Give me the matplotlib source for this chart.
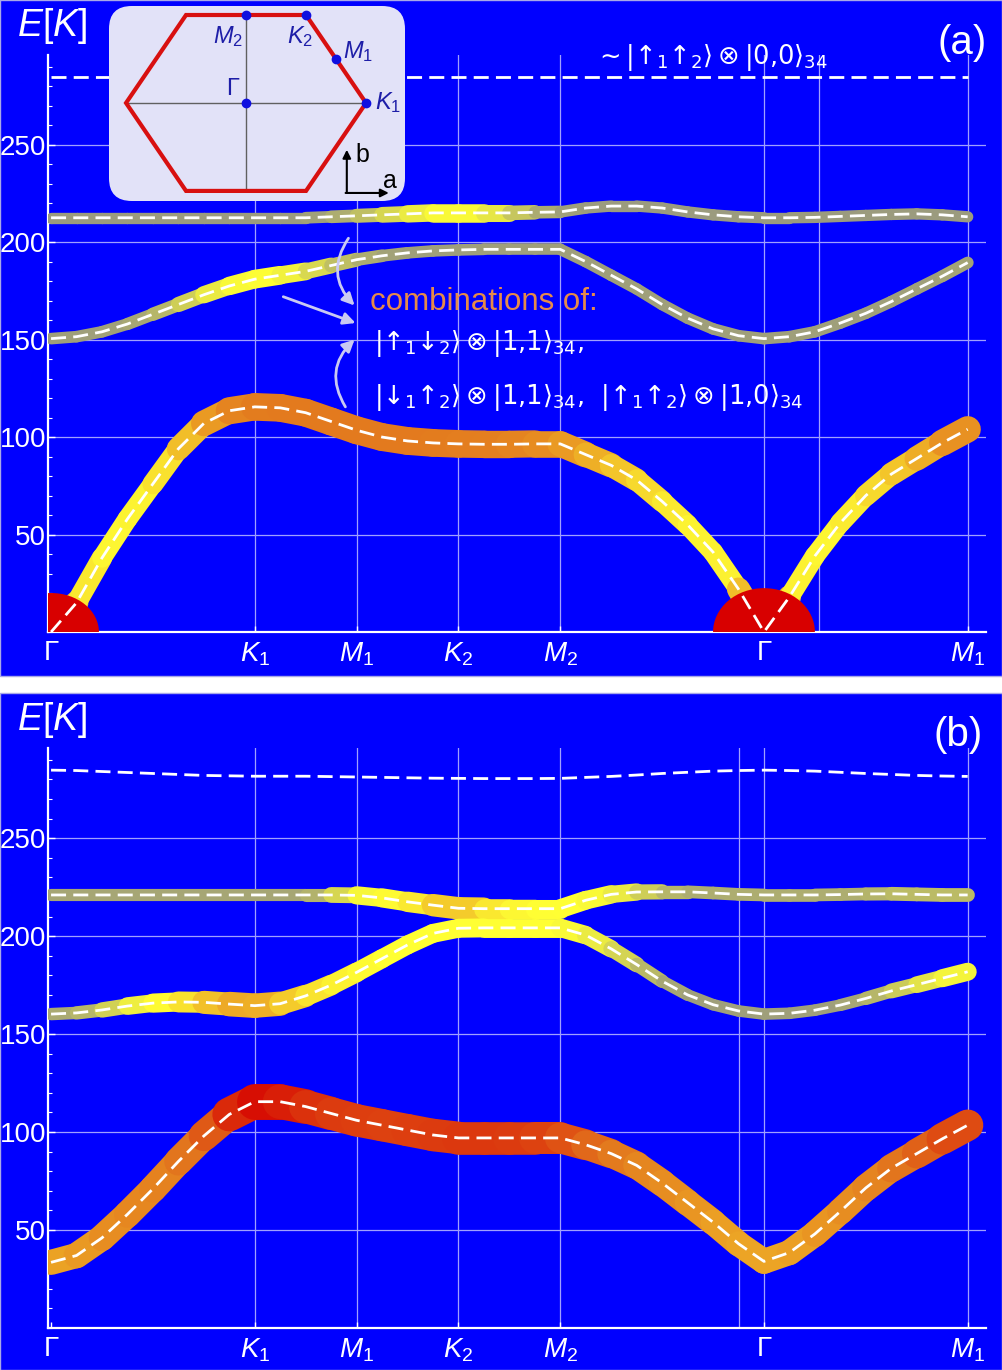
import numpy as np
import matplotlib
matplotlib.use('Agg')
import matplotlib.pyplot as plt
from matplotlib.collections import LineCollection
from matplotlib.colors import LinearSegmentedColormap
from matplotlib.patches import Ellipse, FancyBboxPatch, Rectangle
from matplotlib.ticker import MultipleLocator

plt.rcParams['font.family'] = ['Liberation Sans', 'DejaVu Sans']
plt.rcParams['mathtext.fontset'] = 'custom'
plt.rcParams['mathtext.rm'] = 'Liberation Sans'
plt.rcParams['mathtext.it'] = 'Liberation Sans:italic'
plt.rcParams['mathtext.bf'] = 'Liberation Sans:bold'
plt.rcParams['mathtext.sf'] = 'Liberation Sans'
plt.rcParams['mathtext.fallback'] = 'stixsans'

# ---------------- data ----------------
K_PATH = [0.0, 0.25, 0.5, 0.75, 1.0, 1.25, 1.5, 1.75, 2.0, 2.25, 2.5, 2.75,
          3.0, 3.25, 3.5, 3.75, 4.0, 4.25, 4.5, 4.75, 5.0, 5.25, 5.5, 5.75,
          6.0, 6.25, 6.5, 6.75, 7.0, 7.25, 7.5, 7.75, 8.0, 8.25, 8.5, 8.75, 9.0]
SYM_POS = [0, 2, 3, 4, 5, 7, 9]
SYM_LABELS = ['Γ', '$K_1$', '$M_1$', '$K_2$', '$M_2$', 'Γ', '$M_1$']
E_TICKS = [50, 100, 150, 200, 250]
EXTRA_GRID_A = [7.54]
EXTRA_GRID_B = [6.75]
GAMMA_X = [0, 7]
GAMMA_E = [0, 0]

# panel (a)
A_E1 = [0, 15, 38, 58, 76, 94, 107, 113.5, 115.5, 115, 112.5, 108, 103.5, 100, 98, 97,
        96.5, 96.3, 96.3, 96.5, 96.5, 91, 85.5, 78, 67, 55, 41, 22, 0, 18, 39, 56, 70,
        81, 89, 97, 104]
A_W1 = [0.6, 0.42, 0.36, 0.35, 0.37, 0.44, 0.54, 0.62, 0.65, 0.66, 0.66, 0.66, 0.66,
        0.66, 0.66, 0.66, 0.65, 0.65, 0.64, 0.63, 0.6, 0.56, 0.5, 0.45, 0.4, 0.37, 0.35,
        0.38, 0.6, 0.38, 0.35, 0.36, 0.4, 0.45, 0.5, 0.57, 0.64]
A_E2 = [150.5, 151.5, 154, 158, 163, 168, 173, 177.5, 181, 183, 185, 188, 191, 193,
        194.5, 195.5, 196, 196.3, 196.3, 196.3, 196.3, 190, 183, 176, 168, 161, 155.5,
        152, 150.5, 151.5, 154, 158.5, 163.5, 169.5, 176, 182.5, 189.5]
A_W2 = [0.06, 0.06, 0.06, 0.07, 0.1, 0.15, 0.24, 0.3, 0.33, 0.32, 0.26, 0.18, 0.12,
        0.08, 0.06, 0.06, 0.06, 0.06, 0.06, 0.06, 0.06, 0.06, 0.06, 0.06, 0.06, 0.06,
        0.06, 0.06, 0.06, 0.06, 0.06, 0.06, 0.06, 0.06, 0.06, 0.07, 0.08]
A_E3 = [212.5, 212.5, 212.5, 212.5, 212.5, 212.5, 212.5, 212.5, 212.5, 212.5, 212.5,
        213, 213.5, 214, 214.5, 215, 215, 215, 215, 215.3, 215.5, 217.5, 218.5, 218.5,
        217.5, 215.5, 214, 213, 212.5, 212.5, 212.7, 213.2, 213.7, 214.2, 214.5, 214, 213]
A_W3 = [0.05, 0.05, 0.05, 0.05, 0.05, 0.05, 0.05, 0.05, 0.05, 0.05, 0.05, 0.08, 0.12,
        0.18, 0.25, 0.3, 0.33, 0.3, 0.22, 0.12, 0.07, 0.05, 0.05, 0.05, 0.05, 0.05, 0.05,
        0.05, 0.05, 0.05, 0.05, 0.05, 0.05, 0.05, 0.05, 0.05, 0.05]
A_E4 = [284.5] * 37

# panel (b)
B_E1 = [33.5, 37, 46, 58, 71, 85, 98, 109, 115.5, 115.5, 113, 109.5, 106, 103.5, 101,
        98.5, 97, 97, 97, 97, 97, 93.5, 89, 83, 74, 64, 54, 43, 34, 38.5, 48, 59.5, 71.5,
        81.5, 89, 96.5, 103.5]
B_W1 = [0.55, 0.57, 0.6, 0.62, 0.63, 0.65, 0.7, 0.8, 0.97, 0.95, 0.88, 0.84, 0.83,
        0.82, 0.82, 0.83, 0.84, 0.84, 0.84, 0.83, 0.8, 0.74, 0.68, 0.64, 0.62, 0.6, 0.58,
        0.56, 0.55, 0.56, 0.58, 0.6, 0.62, 0.65, 0.7, 0.76, 0.82]
B_E2 = [160.2, 160.8, 162.3, 164.3, 165.8, 166.4, 166.2, 165.3, 164.5, 165.5, 169.5,
        175, 181.5, 188.5, 195.5, 201.4, 204, 204.2, 204.2, 204.2, 204.2, 200.5, 193.5,
        185.5, 177, 170, 165, 161.8, 160.2, 160.6, 162.2, 164.8, 168.2, 172, 175.2,
        178.5, 181.8]
B_W2 = [0.08, 0.1, 0.15, 0.25, 0.32, 0.36, 0.45, 0.52, 0.56, 0.5, 0.42, 0.38, 0.35,
        0.33, 0.33, 0.33, 0.33, 0.33, 0.33, 0.33, 0.33, 0.3, 0.25, 0.17, 0.1, 0.06, 0.06,
        0.06, 0.06, 0.06, 0.06, 0.06, 0.1, 0.15, 0.22, 0.28, 0.32]
B_E3 = [221, 221, 221, 221, 221, 221, 221, 221, 221, 221, 221, 221, 220.8, 219.5, 217.5,
        215.8, 214.2, 214, 214, 214, 214, 218.3, 221.3, 222.5, 222.6, 222.6, 222, 221.3,
        221, 221, 221, 221.2, 221.5, 221.6, 221.3, 221, 221]
B_W3 = [0.08, 0.08, 0.08, 0.08, 0.08, 0.08, 0.08, 0.08, 0.08, 0.08, 0.08, 0.15, 0.28,
        0.33, 0.35, 0.42, 0.5, 0.42, 0.36, 0.34, 0.33, 0.33, 0.3, 0.24, 0.15, 0.1, 0.1,
        0.1, 0.1, 0.1, 0.1, 0.1, 0.1, 0.14, 0.14, 0.14, 0.14]
B_E4 = [284.7, 284.5, 284, 283.5, 283, 282.5, 282, 281.8, 281.6, 281.6, 281.6, 281.4,
        281.2, 281, 280.8, 280.6, 280.5, 280.4, 280.4, 280.4, 280.5, 281, 281.5, 282.2,
        283, 283.6, 284.2, 284.5, 284.7, 284.5, 284.2, 283.6, 283, 282.5, 282, 281.7, 281.5]

# Brillouin-zone sketch (inset)
BZ_X = [1.0, 0.5, -0.5, -1.0, -0.5, 0.5, 1.0]
BZ_Y = [0.0, 0.733, 0.733, 0.0, -0.733, -0.733, 0.0]
BZ_PTS_X = [0.0, 0.5, 0.75, 0.0, 1.0]
BZ_PTS_Y = [0.733, 0.733, 0.367, 0.0, 0.0]
BZ_LABELS = ['$M_2$', '$K_2$', '$M_1$', 'Γ', '$K_1$']

TOP_KET = r'$\sim|↑_1↑_2\rangle\otimes|0{,}0\rangle_{34}$'
COMB_TXT = 'combinations of:'
KET1 = r'$|↑_1↓_2\rangle\otimes|1{,}1\rangle_{34}{,}$'
KET2 = (r'$|↓_1↑_2\rangle\otimes|1{,}1\rangle_{34}{,}\ \ '
        r'|↑_1↑_2\rangle\otimes|1{,}0\rangle_{34}$')

# ---------------- styling ----------------
W, H = 1002, 1370
BLUE = '#0000FF'
CMAP = LinearSegmentedColormap.from_list(
    'band', [(0.0, '#8A8A8A'), (0.33, '#FFFF33'), (0.66, '#E37A1E'), (1.0, '#D60000')])


def fx(px):
    return px / W


def fy(py):
    return 1 - py / H


fig = plt.figure(figsize=(W / 100, H / 100), dpi=100)
fig.patch.set_facecolor('white')

for top, bot in [(0, 676), (693, 1370)]:
    fig.add_artist(Rectangle((0, fy(bot)), 1, (bot - top) / H, transform=fig.transFigure,
                             facecolor=BLUE, edgecolor='#A8A8E8', lw=1.0, zorder=-5))


def draw_band(ax, e, w):
    x = np.asarray(K_PATH, float)
    e = np.asarray(e, float)
    w = np.asarray(w, float)
    pts = np.column_stack([x, e])
    segs = np.stack([pts[:-1], pts[1:]], axis=1)
    wm = 0.5 * (w[:-1] + w[1:])
    lc = LineCollection(segs, colors=CMAP(wm), linewidths=(10 + 27 * wm) * 0.72,
                        capstyle='round', joinstyle='round', zorder=3)
    ax.add_collection(lc)


def dashed(ax, e):
    ax.plot(K_PATH, e, color='white', lw=2.0, dashes=(5.4, 2.6), zorder=7,
            dash_capstyle='butt')


def setup(ax, extra):
    ax.set_facecolor('none')
    ax.set_xlim(-0.03, 9.18)
    ax.set_ylim(0, 296)
    for s in ['top', 'right']:
        ax.spines[s].set_visible(False)
    for s in ['left', 'bottom']:
        ax.spines[s].set_color('white')
        ax.spines[s].set_linewidth(1.6)
    ax.set_xticks(SYM_POS)
    ax.set_xticklabels(SYM_LABELS)
    ax.set_yticks(E_TICKS)
    ax.yaxis.set_minor_locator(MultipleLocator(10))
    ax.tick_params(axis='x', direction='in', colors='white', length=4, width=1,
                   labelsize=20, pad=6)
    ax.tick_params(axis='y', which='major', direction='in', colors='white', length=5,
                   width=1, labelsize=20, pad=1.5)
    ax.tick_params(axis='y', which='minor', direction='in', colors='white', length=3,
                   width=0.8)
    for xv in list(SYM_POS[1:]) + list(extra):
        ax.axvline(xv, color='#A0A0FF', lw=0.9, zorder=1)
    for yv in E_TICKS:
        ax.axhline(yv, color='#A0A0FF', lw=0.9, zorder=1)


# ---------------- panel (a) ----------------
ax_a = fig.add_axes([fx(48), fy(632), fx(986) - fx(48), 577 / H])
setup(ax_a, EXTRA_GRID_A)
draw_band(ax_a, A_E3, A_W3)
draw_band(ax_a, A_E2, A_W2)
draw_band(ax_a, A_E1, A_W1)
ell_sizes = [(0.94, 40), (1.0, 45)]
for gx, ge, (ew, eh) in zip(GAMMA_X, GAMMA_E, ell_sizes):
    ax_a.add_patch(Ellipse((gx, ge), ew, eh, facecolor='#D80000', edgecolor='none', zorder=5))
for e in [A_E1, A_E2, A_E3, A_E4]:
    dashed(ax_a, e)

ket_kw = dict(color='white', ha='left', va='baseline', zorder=8, math_fontfamily='dejavusans')
ax_a.text(5.33, 291.5, TOP_KET, fontsize=18.5, **ket_kw)
ax_a.text(3.13, 165, COMB_TXT, color='#E58A4A', fontsize=22.5, ha='left', va='baseline', zorder=8)
ax_a.text(3.17, 144.6, KET1, fontsize=18.5, **ket_kw)
ax_a.text(3.17, 117.0, KET2, fontsize=18.5, **ket_kw)

arrow_kw = dict(arrowstyle='-|>', color='#C9C9F2', lw=2.0, mutation_scale=18,
                shrinkA=0, shrinkB=0)
ax_a.annotate('', xy=(2.98, 167.5), xytext=(2.92, 202),
              arrowprops=dict(connectionstyle='arc3,rad=0.4', **arrow_kw), zorder=8)
ax_a.annotate('', xy=(2.99, 158.5), xytext=(2.28, 172),
              arrowprops=dict(connectionstyle='arc3,rad=0', **arrow_kw), zorder=8)
ax_a.annotate('', xy=(2.98, 150), xytext=(2.89, 115.5),
              arrowprops=dict(connectionstyle='arc3,rad=-0.4', **arrow_kw), zorder=8)

# ---------------- panel (b) ----------------
ax_b = fig.add_axes([fx(48), fy(1328), fx(986) - fx(48), 580 / H])
setup(ax_b, EXTRA_GRID_B)
draw_band(ax_b, B_E3, B_W3)
draw_band(ax_b, B_E2, B_W2)
draw_band(ax_b, B_E1, B_W1)
for e in [B_E1, B_E2, B_E3, B_E4]:
    dashed(ax_b, e)

# labels
fig.text(fx(17), fy(25.5), '$E[K]$', color='white', fontsize=27, ha='left', va='center')
fig.text(fx(17), fy(720), '$E[K]$', color='white', fontsize=27, ha='left', va='center')
fig.text(fx(987), fy(43), '(a)', color='white', fontsize=29, ha='right', va='center')
fig.text(fx(983), fy(735), '(b)', color='white', fontsize=29, ha='right', va='center')

# ---------------- inset ----------------
ax_i = fig.add_axes([fx(109), fy(201), (405 - 109) / W, (201 - 6) / H])
ax_i.set_xlim(-1.142, 1.325)
ax_i.set_ylim(-0.817, 0.808)
ax_i.axis('off')
ax_i.add_patch(FancyBboxPatch((-1.142, -0.817), 2.467, 1.625,
                              boxstyle='round,pad=0,rounding_size=0.19',
                              facecolor='#E2E2F8', edgecolor='none', clip_on=False, zorder=0))
ax_i.plot([0, 0], [-0.733, 0.733], color='#606060', lw=1.0, zorder=1)
ax_i.plot([-1, 1], [0, 0], color='#606060', lw=1.0, zorder=1)
ax_i.plot(BZ_X, BZ_Y, color='#D81010', lw=3.0, zorder=2, solid_joinstyle='miter')
ax_i.plot(BZ_PTS_X, BZ_PTS_Y, 'o', color='#1010E0', ms=6, zorder=3)
lab_pos = [(-0.15, 0.55), (0.45, 0.55), (0.93, 0.43), (-0.11, 0.12), (1.18, 0.0)]
for (lx, ly), lab in zip(lab_pos, BZ_LABELS):
    ax_i.text(lx, ly, lab, color='#1E1EA8', fontsize=17, ha='center', va='center', zorder=4)
ax_i.annotate('', xy=(0.84, -0.39), xytext=(0.84, -0.75),
              arrowprops=dict(arrowstyle='-|>', color='black', lw=1.5, mutation_scale=12,
                              shrinkA=0, shrinkB=0))
ax_i.annotate('', xy=(1.19, -0.75), xytext=(0.83, -0.75),
              arrowprops=dict(arrowstyle='-|>', color='black', lw=1.5, mutation_scale=12,
                              shrinkA=0, shrinkB=0))
ax_i.text(0.97, -0.43, 'b', color='black', fontsize=18, ha='center', va='center')
ax_i.text(1.2, -0.65, 'a', color='black', fontsize=18, ha='center', va='center')

fig.savefig('out.png', dpi=100, facecolor='white')
